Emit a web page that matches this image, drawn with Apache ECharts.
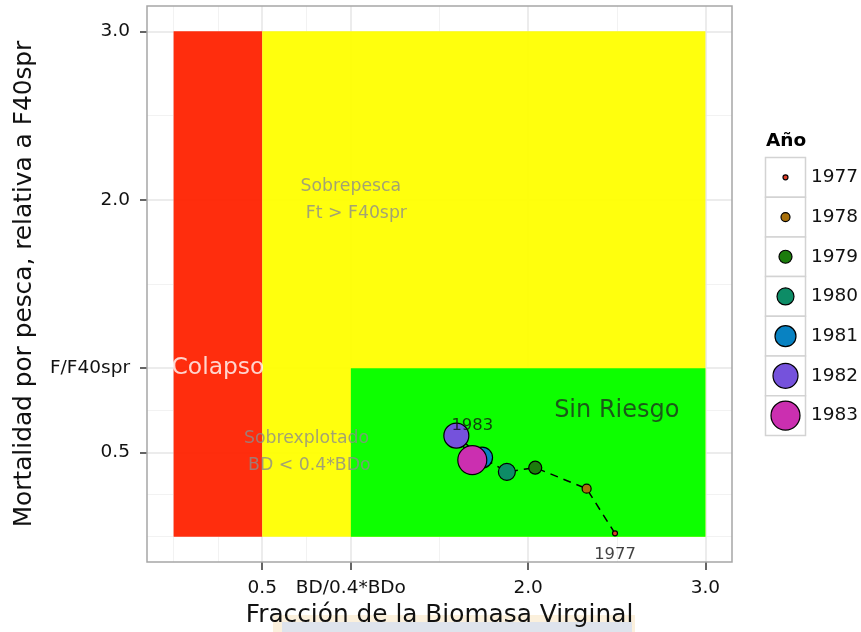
<!DOCTYPE html>
<html><head><meta charset="utf-8">
<script src="https://cdn.jsdelivr.net/npm/echarts@6/dist/echarts.min.js"></script>
<style>html,body{margin:0;padding:0;background:#fff}#c{width:861px;height:632px}</style>
</head><body><div id="c"></div>
<script>
// ---- data ----
const years = ['1977', '1978', '1979', '1980', '1981', '1982', '1983'];
const biomass = [2.49, 2.33, 2.04, 1.88, 1.74, 1.595, 1.685];
const fishing = [0.02, 0.285, 0.41, 0.385, 0.47, 0.60, 0.455];
const xTickValues = [0.5, 1.0, 2.0, 3.0];
const xTickLabels = ['0.5', 'BD/0.4*BDo', '2.0', '3.0'];
const yTickValues = [0.5, 1.0, 2.0, 3.0];
const yTickLabels = ['0.5', 'F/F40spr', '2.0', '3.0'];
const xMinorGrid = [0, 0.25, 0.75, 1.5, 2.5];
const yMinorGrid = [0, 0.25, 0.75, 1.5, 2.5];
const zoneX0 = [0, 0.5, 1.0];
const zoneX1 = [0.5, 3.0, 3.0];
const zoneY0 = [0, 0, 0];
const zoneY1 = [3, 3, 1];
const zoneTexts = ['Colapso', 'Sobrepesca\n  Ft > F40spr', 'Sobrexplotado\n BD < 0.4*BDo', 'Sin Riesgo'];
const zoneTextX = [0.25, 1.0, 0.75, 2.5];
const zoneTextY = [1.0, 2.0, 0.5, 0.75];
const endLabels = ['1977', '1983'];
const endLabelX = [2.49, 1.685];
const endLabelY = [-0.105, 0.658];

// ---- styles ----
const FONT = 'DejaVu Sans';
const yearColors = ['#E0402A', '#A8700A', '#1C7C0C', '#0D8C66', '#0882C2', '#7552DC', '#CB2FB0'];
const yearSizes = [5, 9, 13, 17, 21, 25, 29];
const zoneColors = ['#FF2200', '#FFFF00', '#00FF00'];
const zoneTextColors = ['#ffffff', '#8c8c8c', '#8c8c8c', '#1e301e'];
const zoneTextSizes = [23.4, 17.3, 17.3, 24];

function lookup(vals, labs) {
  return function (v) {
    for (let i = 0; i < vals.length; i++) if (Math.abs(vals[i] - v) < 1e-6) return labs[i];
    return '';
  };
}

const chart = echarts.init(document.getElementById('c'), null, {renderer: 'canvas'});

const gridLineSeries = {
  type: 'scatter', data: [], z: 1, silent: true,
  markLine: {
    silent: true, symbol: ['none', 'none'], animation: false,
    label: {show: false},
    data: []
      .concat(xMinorGrid.map(v => ({xAxis: v, lineStyle: {color: '#f2f2f2', width: 1, type: 'solid'}})))
      .concat(yMinorGrid.map(v => ({yAxis: v, lineStyle: {color: '#f2f2f2', width: 1, type: 'solid'}})))
      .concat(xTickValues.map(v => ({xAxis: v, lineStyle: {color: '#e6e6e6', width: 1.5, type: 'solid'}})))
      .concat(yTickValues.map(v => ({yAxis: v, lineStyle: {color: '#e6e6e6', width: 1.5, type: 'solid'}})))
  }
};

const zoneSeries = {
  type: 'custom', z: 5, silent: true, animation: false,
  data: zoneX0.map((x0, i) => [x0, zoneY0[i], zoneX1[i], zoneY1[i], i]),
  renderItem: function (params, api) {
    const p0 = api.coord([api.value(0), api.value(1)]);
    const p1 = api.coord([api.value(2), api.value(3)]);
    const idx = api.value(4);
    return {
      type: 'rect',
      shape: {x: p0[0], y: p1[1], width: p1[0] - p0[0], height: p0[1] - p1[1]},
      style: {fill: zoneColors[idx], opacity: 0.95}
    };
  },
  encode: {x: [0, 2], y: [1, 3]}
};

const pathSeries = {
  type: 'line', z: 6, silent: true, animation: false,
  symbol: 'none',
  data: biomass.map((x, i) => [x, fishing[i]]),
  lineStyle: {color: '#000', width: 1.5, type: [8, 6]}
};

const pointSeries = {
  type: 'scatter', z: 7, animation: false,
  data: biomass.map((x, i) => ({
    value: [x, fishing[i]], name: years[i],
    symbolSize: yearSizes[i],
    itemStyle: {color: yearColors[i], borderColor: '#000', borderWidth: 1.2, opacity: 1}
  }))
};

const zoneTextSeries = {
  type: 'scatter', z: 8, silent: true, animation: false,
  symbolSize: 1, itemStyle: {color: 'rgba(0,0,0,0)'},
  data: zoneTexts.map((t, i) => ({
    value: [zoneTextX[i], zoneTextY[i]],
    label: {
      show: true, position: 'inside', formatter: t, align: 'center',
      fontFamily: FONT, fontSize: zoneTextSizes[i], color: zoneTextColors[i],
      lineHeight: 27
    }
  }))
};

const endLabelSeries = {
  type: 'scatter', z: 9, silent: true, animation: false,
  symbolSize: 1, itemStyle: {color: 'rgba(0,0,0,0)'},
  data: endLabels.map((t, i) => ({
    value: [endLabelX[i], endLabelY[i]],
    label: {show: true, position: 'inside', formatter: t, fontFamily: FONT, fontSize: 16.4, color: '#111'}
  }))
};

// legend drawn as graphic
const LX = 765.5, LY = 157.5, LH = 39.7, LW = 40;
const legendEls = [{
  type: 'text', z: 100,
  style: {text: 'Año', x: 766, y: 141, font: 'bold 18.5px "DejaVu Sans"', fill: '#000',
          textVerticalAlign: 'middle', verticalAlign: 'middle'}
}];
years.forEach((y, i) => {
  const cy = LY + LH / 2 + i * LH;
  legendEls.push({type: 'rect', z: 100, shape: {x: LX, y: LY + i * LH, width: LW, height: LH},
    style: {fill: '#fff', stroke: '#d3d3d3', lineWidth: 1.5}});
  legendEls.push({type: 'circle', z: 101, shape: {cx: LX + LW / 2, cy: cy, r: yearSizes[i] / 2},
    style: {fill: yearColors[i], stroke: '#000', lineWidth: 1.2}});
  legendEls.push({type: 'text', z: 101,
    style: {text: y, x: 811, y: cy, font: '18.5px "DejaVu Sans"', fill: '#111',
            textVerticalAlign: 'middle', verticalAlign: 'middle'}});
});
// faint background strip at the bottom of the picture
legendEls.push({type: 'rect', z: -10, shape: {x: 273, y: 615, width: 362, height: 20}, style: {fill: '#FBF0DC'}});
legendEls.push({type: 'rect', z: -9, shape: {x: 282, y: 622, width: 350, height: 12}, style: {fill: '#DEE3EC'}});

const option = {
  animation: false,
  backgroundColor: '#fff',
  grid: {left: 147, right: 129, top: 6, bottom: 70, show: true, borderColor: '#a6a6a6', borderWidth: 1.5,
         backgroundColor: 'transparent', z: 10, outerBoundsMode: 'none', containLabel: false},
  xAxis: {
    type: 'value', min: -0.15, max: 3.15,
    name: 'Fracción de la Biomasa Virginal', nameLocation: 'middle', nameGap: 33,
    nameTextStyle: {fontFamily: FONT, fontSize: 24.8, color: '#111'},
    axisLine: {show: false, onZero: false},
    splitLine: {show: false},
    axisTick: {show: true, inside: false, customValues: xTickValues, length: 8, lineStyle: {color: '#333', width: 1.5}},
    axisLabel: {customValues: xTickValues, formatter: lookup(xTickValues, xTickLabels),
      margin: 17, fontFamily: FONT, fontSize: 18.5, color: '#111'}
  },
  yAxis: {
    type: 'value', min: -0.15, max: 3.15,
    name: 'Mortalidad por pesca, relativa a F40spr', nameLocation: 'middle', nameGap: 110,
    nameTextStyle: {fontFamily: FONT, fontSize: 24.8, color: '#111'},
    axisLine: {show: false, onZero: false},
    splitLine: {show: false},
    axisTick: {show: true, inside: false, customValues: yTickValues, length: 7, lineStyle: {color: '#333', width: 1.5}},
    axisLabel: {customValues: yTickValues, formatter: lookup(yTickValues, yTickLabels),
      margin: 17, fontFamily: FONT, fontSize: 18.5, color: '#111'}
  },
  graphic: {elements: legendEls},
  series: [gridLineSeries, zoneSeries, pathSeries, pointSeries, zoneTextSeries, endLabelSeries]
};
chart.setOption(option);
</script>
</body></html>
